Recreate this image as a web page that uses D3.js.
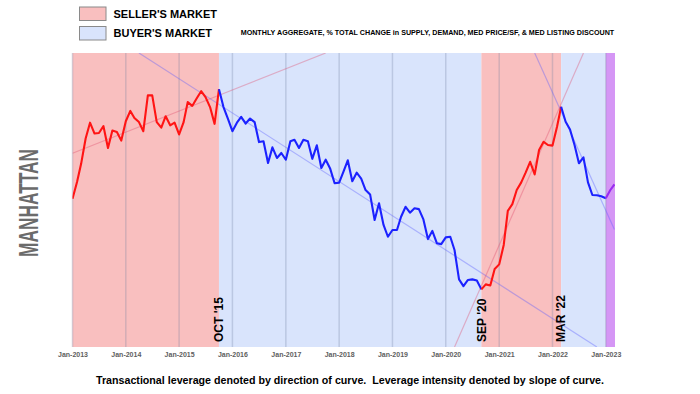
<!DOCTYPE html>
<html>
<head>
<meta charset="utf-8">
<script src="https://cdn.jsdelivr.net/npm/d3@7"></script>
<style>
  body { margin: 0; background: #fff; }
  svg { display: block; font-family: Arial, "Liberation Sans", sans-serif; }
</style>
</head>
<body>
<svg id="chart" width="700" height="394"></svg>
<script>
// monthly index values, Jan-2013 .. Mar-2023 (no y scale shown)
const firstMonth = "2013-01";
const values = [
  50.4, 56.1, 62.3, 70.9, 76.3, 72.6, 72.8, 75.1, 67.7, 73.6, 73.1, 70.2,
  76.8, 80.3, 77.9, 76.5, 73.4, 85.6, 85.6, 76.5, 74.6, 78.5, 75.4, 76.3,
  72.3, 76.5, 83.3, 82.0, 84.5, 87.0, 85.0, 81.6, 75.9, 87.7, 81.6, 77.7,
  73.4, 76.3, 78.3, 76.0, 77.7, 76.5, 69.7, 70.0, 62.6, 67.9, 64.3, 66.0,
  63.7, 70.0, 70.5, 67.7, 70.5, 70.0, 64.0, 68.6, 60.9, 63.7, 60.6, 55.7,
  55.9, 59.8, 63.5, 56.4, 59.3, 57.3, 53.4, 51.9, 43.2, 48.9, 41.5, 37.5,
  39.8, 39.8, 44.3, 47.7, 45.7, 47.2, 46.9, 43.4, 36.7, 39.5, 35.3, 35.0,
  37.3, 37.5, 33.0, 23.0, 20.7, 22.8, 23.0, 22.6, 19.6, 21.3, 20.9, 26.5,
  28.1, 34.7, 46.3, 48.6, 53.4, 56.0, 59.3, 63.0, 58.7, 67.0, 69.8, 68.7,
  68.5, 74.9, 81.7, 76.6, 74.0, 68.7, 62.5, 64.5, 56.0, 51.7, 51.6, 51.3,
  50.6, 53.4, 55.3
];

// market phases
const phaseStart = ["2013-01", "2015-10", "2020-09", "2022-03", "2023-01"];
const phaseEnd   = ["2015-10", "2020-09", "2022-03", "2023-01", "2023-03"];
const phaseType  = ["seller", "buyer", "seller", "buyer", "current"];

// turning point labels
const turnLabels = ["OCT '15", "SEP '20", "MAR '22"];
const turnDates  = ["2015-10", "2020-09", "2022-03"];

// slope guide lines [month, value]
const trendLines = [
  { type: "seller", pts: [["2013-01", 65.9], ["2017-10", 100]] },
  { type: "buyer",  pts: [["2014-04", 100], ["2022-11", 0]] },
  { type: "seller", pts: [["2020-03", 0], ["2022-08", 100]] },
  { type: "buyer",  pts: [["2021-09", 100], ["2023-03", 40]] }
];

const tickYears = ["2013", "2014", "2015", "2016", "2017", "2018", "2019", "2020", "2021", "2022", "2023"];

const legendItems = ["SELLER'S MARKET", "BUYER'S MARKET"];

const bandColor = { seller: "#f9bfbf", buyer: "#d9e4fc", current: "#d596f5" };
const lineColor = { seller: "#ff1414", buyer: "#1c22ff", current: "#9a2cf0" };
const trendColor = { seller: "#e0506e", buyer: "#5a5cff" };

const parseMonth = d3.timeParse("%Y-%m");
const t0 = parseMonth(firstMonth);
const points = values.map((v, i) => ({ date: d3.timeMonth.offset(t0, i), value: v }));

const svg = d3.select("#chart");

const x = d3.scaleTime()
  .domain([new Date(2013, 0, 1), new Date(2023, 2, 5)])
  .range([72.5, 615]);
const y = d3.scaleLinear().domain([0, 100]).range([347, 53]);

svg.append("defs").append("clipPath").attr("id", "plot-clip")
  .append("rect")
  .attr("x", x.range()[0]).attr("y", y(100))
  .attr("width", x.range()[1] - x.range()[0])
  .attr("height", y(0) - y(100));

// background bands
phaseStart.forEach((s, i) => {
  const x0 = x(parseMonth(s));
  const x1 = i === phaseStart.length - 1 ? x.range()[1] : x(parseMonth(phaseEnd[i]));
  svg.append("rect")
    .attr("x", x0).attr("y", y(100))
    .attr("width", x1 - x0).attr("height", y(0) - y(100))
    .attr("fill", bandColor[phaseType[i]]);
});

// vertical year lines
svg.append("g")
  .selectAll("line")
  .data(tickYears.map(yr => parseMonth(yr + "-01")))
  .join("line")
  .attr("x1", d => x(d)).attr("x2", d => x(d))
  .attr("y1", y(100)).attr("y2", y(0))
  .attr("stroke", "#6f7f9f")
  .attr("stroke-opacity", 0.28)
  .attr("stroke-width", 1.5);

// slope guides
const plot = svg.append("g").attr("clip-path", "url(#plot-clip)");
const guide = d3.line()
  .x(d => x(parseMonth(d[0])))
  .y(d => y(d[1]));
trendLines.forEach(t => {
  plot.append("path")
    .attr("d", guide(t.pts))
    .attr("fill", "none")
    .attr("stroke", trendColor[t.type])
    .attr("stroke-opacity", 0.38)
    .attr("stroke-width", 1.2);
});

// curve, coloured per phase
const line = d3.line().x(d => x(d.date)).y(d => y(d.value));
phaseStart.forEach((s, i) => {
  const a = parseMonth(s), b = parseMonth(phaseEnd[i]);
  const seg = points.filter(p => p.date >= a && p.date <= b);
  plot.append("path")
    .attr("d", line(seg))
    .attr("fill", "none")
    .attr("stroke", lineColor[phaseType[i]])
    .attr("stroke-width", 2.1)
    .attr("stroke-linejoin", "round");
});

// turning point labels
turnDates.forEach((d, i) => {
  svg.append("text")
    .attr("transform", `translate(${x(parseMonth(d)) + 4.3},342) rotate(-90)`)
    .attr("font-size", 12)
    .attr("font-weight", "bold")
    .attr("fill", "#000")
    .text(turnLabels[i]);
});

// x axis
const xAxis = svg.append("g")
  .attr("transform", `translate(0,${y(0)})`)
  .call(d3.axisBottom(x)
    .tickValues(tickYears.map(yr => parseMonth(yr + "-01")))
    .tickFormat(d3.timeFormat("%b-%Y"))
    .tickSize(0)
    .tickPadding(5.5));
xAxis.select(".domain").remove();
xAxis.selectAll("text")
  .attr("font-size", 7)
  .attr("font-weight", "bold")
  .attr("fill", "#5e5e5e")
  .attr("font-family", "Arial, 'Liberation Sans', sans-serif");

// legend
legendItems.forEach((name, i) => {
  const g = svg.append("g").attr("transform", `translate(79.5,${7 + i * 19.5})`);
  g.append("rect")
    .attr("width", 26.5).attr("height", 13.5)
    .attr("fill", i === 0 ? bandColor.seller : bandColor.buyer)
    .attr("stroke", "#8a8a8a").attr("stroke-width", 1);
  g.append("text")
    .attr("x", 34).attr("y", 10.8)
    .attr("font-size", 11)
    .attr("font-weight", "bold")
    .attr("fill", "#000")
    .text(name);
});

svg.append("text")
  .attr("x", 240.7).attr("y", 35)
  .attr("font-size", 7.4)
  .attr("font-weight", "bold")
  .attr("textLength", 373.5)
  .attr("lengthAdjust", "spacingAndGlyphs")
  .text("MONTHLY AGGREGATE, % TOTAL CHANGE in SUPPLY, DEMAND, MED PRICE/SF, & MED LISTING DISCOUNT");

// market name
svg.append("text")
  .attr("transform", "translate(37.5,203) rotate(-90)")
  .attr("text-anchor", "middle")
  .attr("font-size", 27)
  .attr("font-weight", "bold")
  .attr("fill", "#6b6b6b")
  .attr("textLength", 108)
  .attr("lengthAdjust", "spacingAndGlyphs")
  .text("MANHATTAN");

// caption
svg.append("text")
  .attr("x", 96).attr("y", 383.5)
  .attr("font-size", 11)
  .attr("font-weight", "bold")
  .attr("fill", "#000")
  .attr("textLength", 508)
  .attr("lengthAdjust", "spacingAndGlyphs")
  .style("white-space", "pre")
  .text("Transactional leverage denoted by direction of curve.  Leverage intensity denoted by slope of curve.");
</script>
</body>
</html>
